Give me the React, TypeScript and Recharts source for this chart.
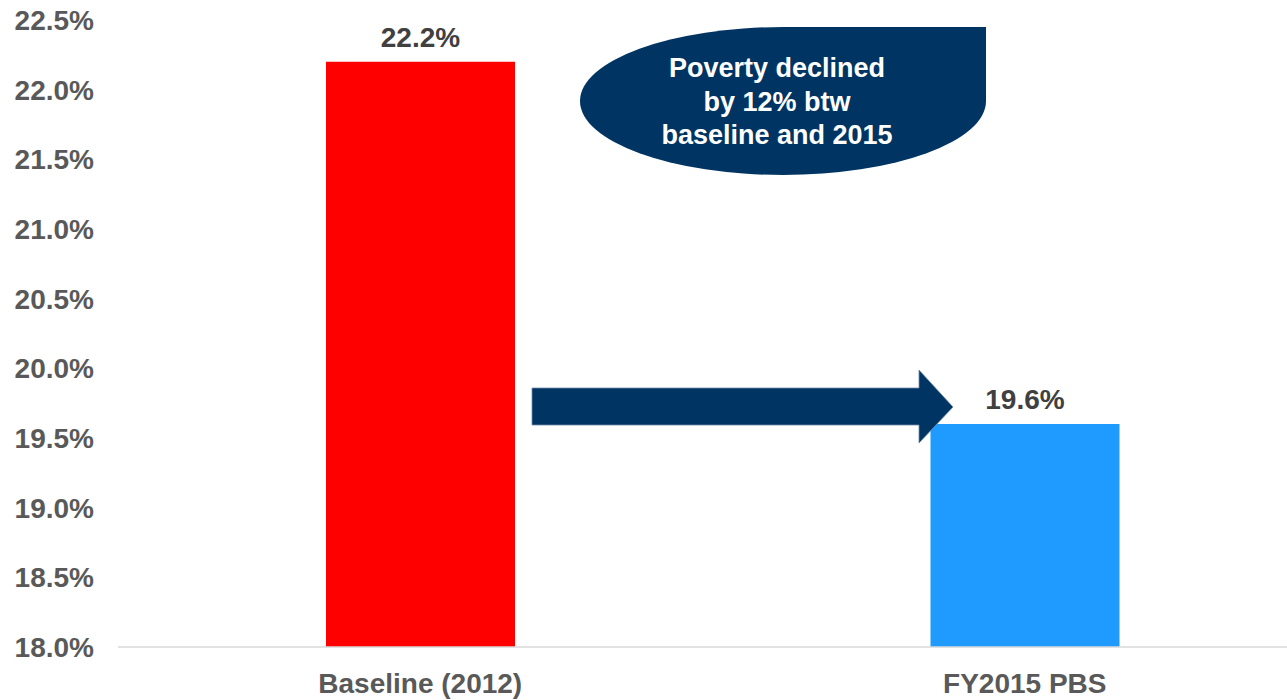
import React from 'react';
import { BarChart, Bar, XAxis, YAxis, Cell, LabelList } from 'recharts';

const categories = ['Baseline (2012)', 'FY2015 PBS'];
const povertyRates = [22.2, 19.6];
const barColors = ['#FF0000', '#1F9BFF'];
const yTicks = [18.0, 18.5, 19.0, 19.5, 20.0, 20.5, 21.0, 21.5, 22.0, 22.5];
const calloutLines = ['Poverty declined', 'by 12% btw', 'baseline and 2015'];

const data = categories.map((c, i) => ({ category: c, value: povertyRates[i] }));

const FONT = '"Liberation Sans", Arial, sans-serif';
const NAVY = '#003462';

const pct = (v: number) => `${Number(v).toFixed(1)}%`;

export default function App() {
  return (
    <div
      style={{
        position: 'fixed',
        left: 0,
        top: 0,
        width: 1287,
        height: 700,
        overflow: 'hidden',
        background: '#ffffff',
        fontFamily: FONT,
      }}
    >
      <BarChart
        width={1327}
        height={700}
        data={data}
        margin={{ top: 20, right: 0, bottom: 0, left: 0 }}
      >
        <XAxis
          dataKey="category"
          height={53}
          tickLine={false}
          tickSize={0}
          tickMargin={26}
          axisLine={{ stroke: '#d9d9d9', strokeWidth: 1.5 }}
          tick={{ fill: '#595959', fontSize: 28, fontWeight: 'bold', fontFamily: FONT }}
          interval={0}
        />
        <YAxis
          width={118}
          domain={[18, 22.5]}
          ticks={yTicks}
          tickFormatter={pct}
          axisLine={false}
          tickLine={false}
          tickSize={0}
          tickMargin={24}
          tick={{ fill: '#595959', fontSize: 28, fontWeight: 'bold', fontFamily: FONT }}
          allowDataOverflow
        />
        <Bar dataKey="value" barSize={189} isAnimationActive={false}>
          {data.map((d, i) => (
            <Cell key={d.category} fill={barColors[i]} />
          ))}
          <LabelList
            dataKey="value"
            position="top"
            offset={15}
            formatter={pct}
            fill="#404040"
            fontSize={28}
            fontWeight="bold"
            fontFamily={FONT}
          />
        </Bar>
      </BarChart>
      <svg
        width={1287}
        height={700}
        style={{ position: 'absolute', left: 0, top: 0, pointerEvents: 'none' }}
      >
        <path
          d="M 783 27 L 986 27 L 986 101 A 203 74 0 0 1 783 175 A 203 74 0 0 1 580 101 A 203 74 0 0 1 783 27 Z"
          fill={NAVY}
        />
        {calloutLines.map((line, i) => (
          <text
            key={line}
            x={777}
            y={77 + i * 33.5}
            textAnchor="middle"
            fill="#ffffff"
            fontSize={27}
            fontWeight="bold"
            fontFamily={FONT}
          >
            {line}
          </text>
        ))}
        <polygon
          points="532,388 919,388 919,370 953,407 919,443 919,425 532,425"
          fill={NAVY}
          stroke="#6f8aa8"
          strokeWidth={0.8}
        />
      </svg>
    </div>
  );
}
